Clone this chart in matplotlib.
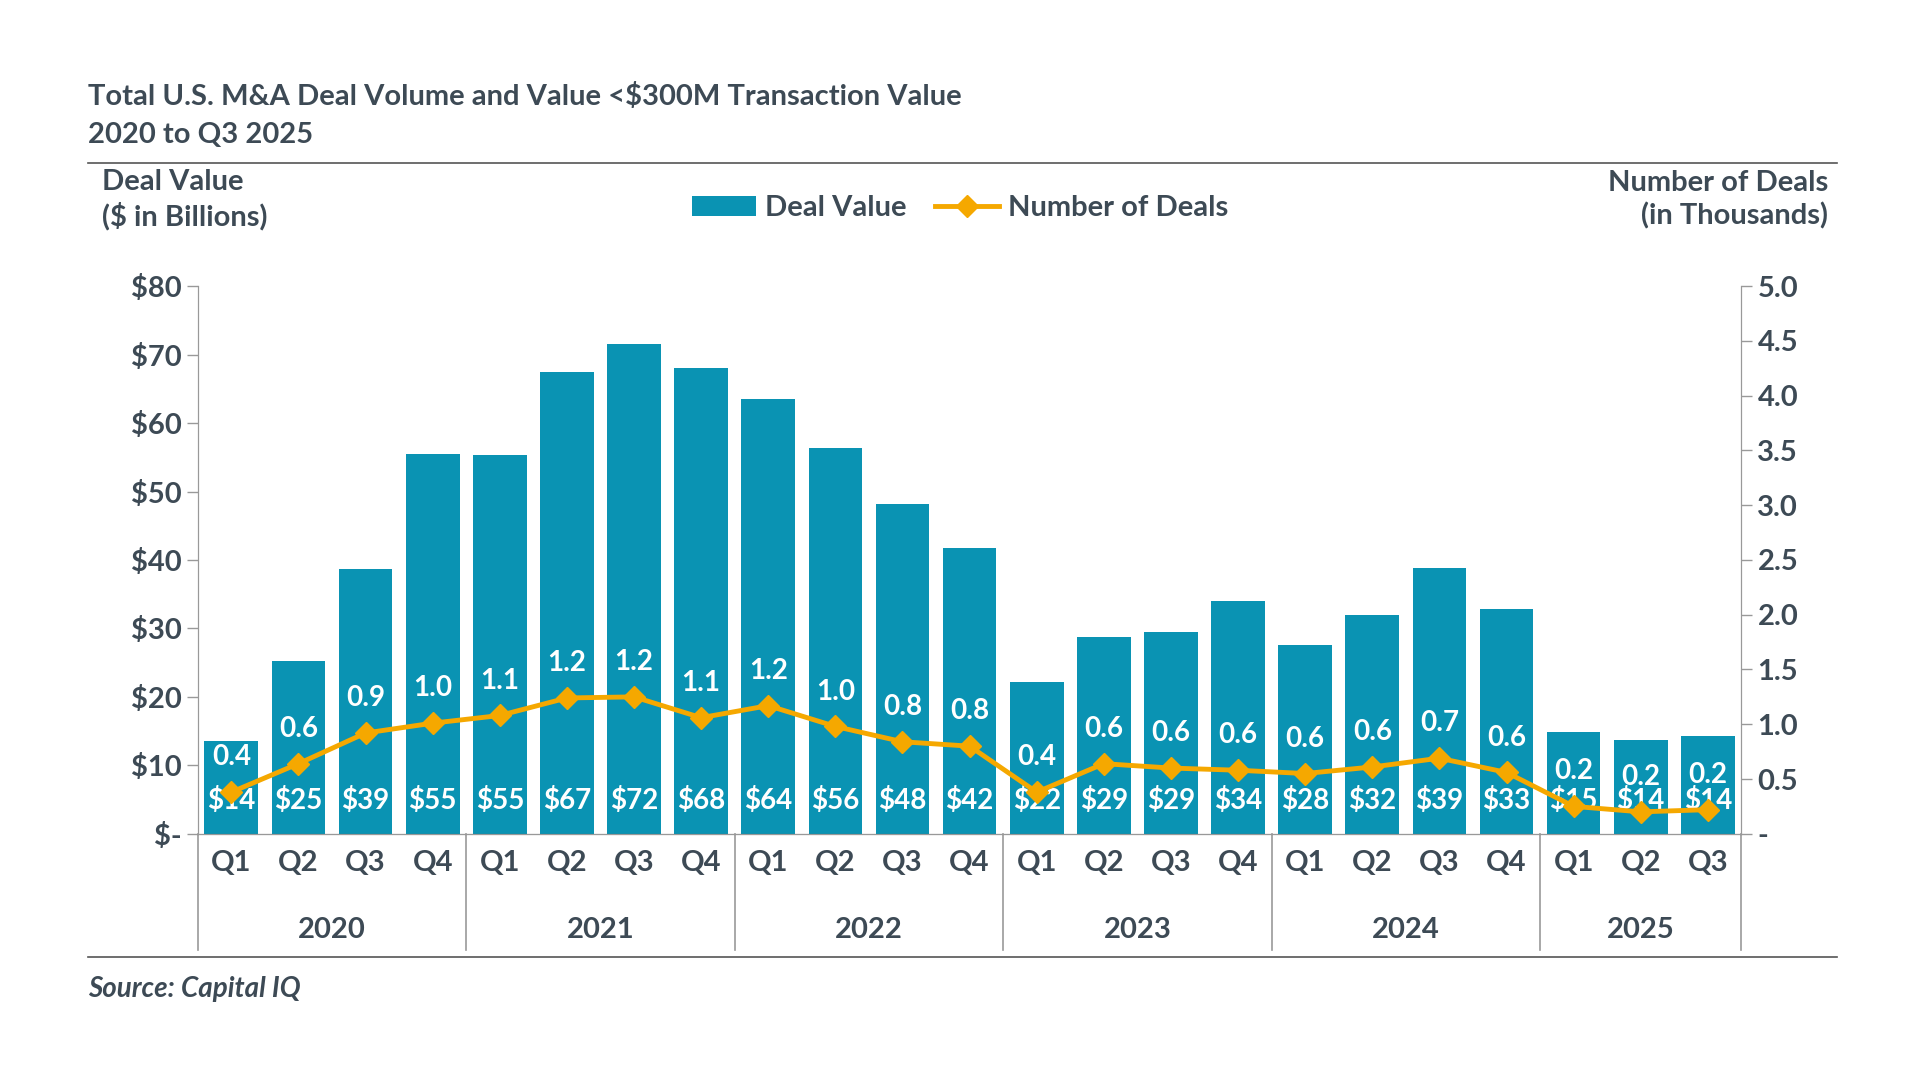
import matplotlib.pyplot as plt
import numpy as np

plt.rcParams['font.family'] = ['Lato', 'DejaVu Sans']

quarters = ["Q1", "Q2", "Q3", "Q4"] * 5 + ["Q1", "Q2", "Q3"]
years = ["2020", "2021", "2022", "2023", "2024", "2025"]
deal_value = [13.5, 25.3, 38.7, 55.5, 55.4, 67.4, 71.5, 68.0, 63.5, 56.3, 48.2, 41.8,
              22.1, 28.8, 29.5, 34.0, 27.6, 32.0, 38.8, 32.8, 14.9, 13.7, 14.3]
value_labels = ["$14", "$25", "$39", "$55", "$55", "$67", "$72", "$68", "$64", "$56", "$48", "$42",
                "$22", "$29", "$29", "$34", "$28", "$32", "$39", "$33", "$15", "$14", "$14"]
num_deals = [0.38, 0.64, 0.92, 1.01, 1.08, 1.24, 1.25, 1.06, 1.17, 0.98, 0.84, 0.80,
             0.38, 0.64, 0.60, 0.58, 0.55, 0.61, 0.69, 0.56, 0.25, 0.20, 0.22]
deal_labels = ["0.4", "0.6", "0.9", "1.0", "1.1", "1.2", "1.2", "1.1", "1.2", "1.0", "0.8", "0.8",
               "0.4", "0.6", "0.6", "0.6", "0.6", "0.6", "0.7", "0.6", "0.2", "0.2", "0.2"]

teal = "#0a93b3"
orange = "#f5a800"
txt = "#3d4a55"

fig = plt.figure(figsize=(19.2, 10.8), dpi=100)
ax = fig.add_axes([0.103, 0.228, 0.804, 0.507])
ax2 = ax.twinx()
x = np.arange(len(deal_value))

ax.bar(x, deal_value, width=0.8, color=teal, label="Deal Value", zorder=2)
for xi, lab in zip(x, value_labels):
    ax.text(xi, 4.8, lab, ha="center", va="center", color="white", fontsize=20, fontweight="bold", zorder=5)

ax2.plot(x, num_deals, color=orange, lw=3.5, marker="D", ms=11, label="Number of Deals", zorder=3)
for xi, v, lab in zip(x, num_deals, deal_labels):
    ax2.text(xi, v + 0.2, lab, ha="center", va="bottom", color="white", fontsize=20, fontweight="bold")

ax.set_xlim(-0.5, len(x) - 0.5)
ax.set_ylim(0, 80)
ax2.set_ylim(0, 5)
ax.set_yticks(range(0, 81, 10))
ax.set_yticklabels(["$-"] + [f"${v}" for v in range(10, 81, 10)])
ax2.set_yticks(np.arange(0, 5.01, 0.5))
ax2.set_yticklabels(["-"] + [f"{v:.1f}" for v in np.arange(0.5, 5.01, 0.5)])
for a in (ax, ax2):
    for s in ("top",):
        a.spines[s].set_visible(False)
    a.spines["left"].set_color("#999999")
    a.spines["right"].set_color("#999999")
    a.spines["bottom"].set_color("#999999")
    a.tick_params(axis="y", labelsize=21, colors=txt, length=8, color="#999999", width=1)
    for t in a.get_yticklabels():
        t.set_fontweight("bold")
ax.set_xticks(x)
ax.set_xticklabels(quarters, fontsize=21, fontweight="bold", color=txt)
ax.tick_params(axis="x", length=0, pad=12)
ax.spines["bottom"].set_color("#555555")

# year groups
starts = [0, 4, 8, 12, 16, 20]
bounds = starts + [len(x)]
for b in bounds:
    ax.plot([b - 0.5, b - 0.5], [0, -17], color="#999999", lw=1.2, clip_on=False, transform=ax.transData)
for i, yr in enumerate(years):
    ax.text((bounds[i] + bounds[i + 1] - 1) / 2, -14, yr, ha="center", va="center",
            fontsize=21, fontweight="bold", color=txt)

# titles and labels
fig.text(0.046, 0.911, "Total U.S. M&A Deal Volume and Value <$300M Transaction Value",
         fontsize=21, fontweight="bold", color=txt, va="center")
fig.text(0.046, 0.875, "2020 to Q3 2025", fontsize=21, fontweight="bold", color=txt, va="center")
fig.add_artist(plt.Line2D([0.046, 0.957], [0.849, 0.849], color="#555555", lw=1.2))
fig.add_artist(plt.Line2D([0.046, 0.957], [0.114, 0.114], color="#555555", lw=1.2))
fig.text(0.046, 0.084, "Source: Capital IQ", fontsize=20, fontweight="bold", style="italic",
         color=txt, va="center")
fig.text(0.053, 0.815, "Deal Value\n($ in Billions)", fontsize=21, fontweight="bold", color=txt,
         va="center", ha="left", linespacing=1.3)
fig.text(0.952, 0.815, "Number of Deals\n(in Thousands)", fontsize=21, fontweight="bold", color=txt,
         va="center", ha="right", linespacing=1.3, multialignment="right")

h1, l1 = ax.get_legend_handles_labels()
h2, l2 = ax2.get_legend_handles_labels()
fig.legend(h1 + h2, l1 + l2, loc="center", bbox_to_anchor=(0.5, 0.807), ncol=2, frameon=False,
           prop={"size": 21, "weight": "bold"}, labelcolor=txt, handlelength=2.2,
           handletextpad=0.3, columnspacing=1.0)

fig.savefig("out.png", dpi=100)
